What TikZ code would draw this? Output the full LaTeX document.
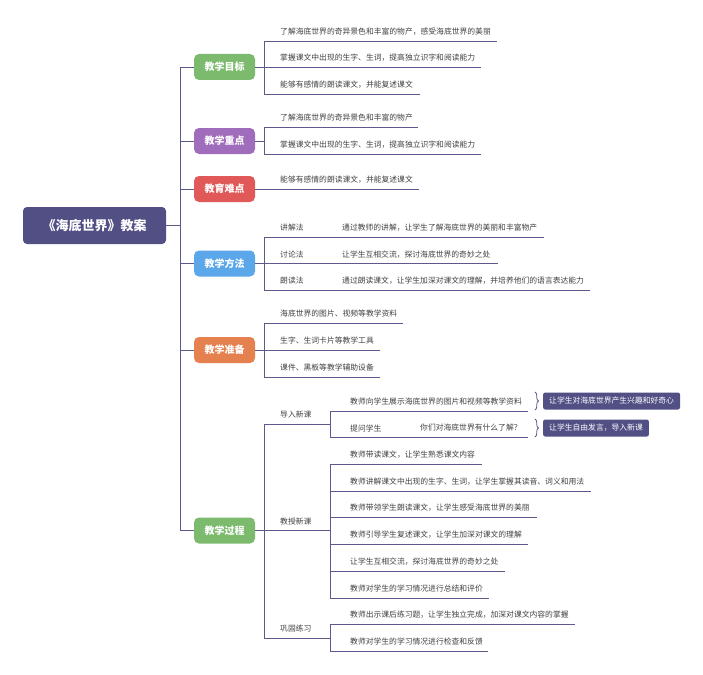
\documentclass[tikz,border=0pt]{standalone}
\usepackage{fontspec}
\setmainfont{Noto Sans CJK SC}
\usetikzlibrary{decorations.pathreplacing}
\definecolor{ink}{HTML}{524F85}
\definecolor{lnc}{HTML}{5C5A8C}
\definecolor{cgreen}{HTML}{7CBA6D}
\definecolor{cpurple}{HTML}{A06CBC}
\definecolor{cred}{HTML}{E15858}
\definecolor{cblue}{HTML}{5BA7EA}
\definecolor{corange}{HTML}{E5814F}
\definecolor{txt}{HTML}{404040}
\tikzset{
  rootbox/.style={fill=ink, rounded corners=4pt, text=white, font=\fontsize{13}{15}\selectfont\bfseries, minimum width=143, minimum height=37, inner sep=0},
  topic/.style={rounded corners=5pt, text=white, font=\fontsize{10}{12}\selectfont\bfseries, minimum width=61, minimum height=26, inner sep=0},
  leaftext/.style={anchor=west, inner sep=0, text=txt, font=\fontsize{7.8}{9}\selectfont},
  link/.style={draw=lnc, line width=0.9},
  sumbox/.style={fill=ink, rounded corners=2pt, text=white, font=\fontsize{7.8}{9}\selectfont, inner xsep=6, inner ysep=0, minimum height=17, anchor=west},
  bracelink/.style={draw=lnc, line width=0.8, decorate, decoration={brace, amplitude=3.5pt}},
}
% name, bracket x, text x, underline y, end x, text
\newcommand\lf[6]{%
  \node[leaftext] (#1) at (#3,#4-9) {#6};
  \coordinate (#1s) at (#2,#4);
  \coordinate (#1e) at (#5,#4);
  \draw[link] (#1s) -- (#1e);}
\begin{document}
\begin{tikzpicture}[x=1pt,y=-1pt]
\useasboundingbox (0,0) rectangle (703,674);
% root
\node[rootbox] (root) at (94.5,225.5) {《海底世界》教案};
% topics
\node[topic, fill=cgreen]  (g1) at (224.5,67)  {教学目标};
\node[topic, fill=cpurple] (g2) at (224.5,141) {教学重点};
\node[topic, fill=cred]    (g3) at (224.5,189) {教育难点};
\node[topic, fill=cblue]   (g4) at (224.5,263.5) {教学方法};
\node[topic, fill=corange] (g5) at (224.5,350) {教学准备};
\node[topic, fill=cgreen]  (g6) at (224.5,530.5) {教学过程};
% trunk
\coordinate (t0) at (180,225.5);
\coordinate (t1) at (180,67);
\coordinate (t2) at (180,141);
\coordinate (t3) at (180,189);
\coordinate (t4) at (180,263.5);
\coordinate (t5) at (180,350);
\coordinate (t6) at (180,530.5);
\draw[link] (root.east) -- (t0);
\draw[link] (t1) -- (t6);
\foreach \i in {1,...,6} {\draw[link] (t\i) -- (g\i.west);}
% 教学目标
\lf{a1}{264}{280}{41}{497}{了解海底世界的奇异景色和丰富的物产，感受海底世界的美丽}
\lf{a2}{264}{280}{67}{481}{掌握课文中出现的生字、生词，提高独立识字和阅读能力}
\lf{a3}{264}{280}{94}{420}{能够有感情的朗读课文，并能复述课文}
\draw[link] (g1.east) -- (a2s);
\draw[link] (a1s) -- (a3s);
% 教学重点
\lf{b1}{264}{280}{127}{418}{了解海底世界的奇异景色和丰富的物产}
\lf{b2}{264}{280}{154}{481}{掌握课文中出现的生字、生词，提高独立识字和阅读能力}
\coordinate (bj) at (264,141);
\draw[link] (g2.east) -- (bj);
\draw[link] (b1s) -- (b2s);
% 教育难点
\lf{c1}{264}{280}{189}{419}{能够有感情的朗读课文，并能复述课文}
\draw[link] (g3.east) -- (c1s);
% 教学方法
\lf{d1}{264}{280}{237}{544}{讲解法}
\lf{d2}{264}{280}{263.5}{498}{讨论法}
\lf{d3}{264}{280}{290}{590}{朗读法}
\node[leaftext] (d1t) at (342,237-9) {通过教师的讲解，让学生了解海底世界的美丽和丰富物产};
\node[leaftext] (d2t) at (342,263.5-9) {让学生互相交流，探讨海底世界的奇妙之处};
\node[leaftext] (d3t) at (342,290-9) {通过朗读课文，让学生加深对课文的理解，并培养他们的语言表达能力};
\draw[link] (g4.east) -- (d2s);
\draw[link] (d1s) -- (d3s);
% 教学准备
\lf{e1}{264}{280}{323}{403}{海底世界的图片、视频等教学资料}
\lf{e2}{264}{280}{350}{380}{生字、生词卡片等教学工具}
\lf{e3}{264}{280}{377}{380}{课件、黑板等教学辅助设备}
\draw[link] (g5.east) -- (e2s);
\draw[link] (e1s) -- (e3s);
% 教学过程
\lf{f1}{264}{280}{424}{330}{导入新课}
\lf{f2}{264}{280}{530.5}{330}{教授新课}
\lf{f3}{264}{280}{638}{330}{巩固练习}
\draw[link] (g6.east) -- (f2s);
\draw[link] (f1s) -- (f3s);
% 导入新课
\lf{h1}{330}{350}{411}{528}{教师向学生展示海底世界的图片和视频等教学资料}
\lf{h2}{330}{350}{437}{528}{提问学生}
\node[leaftext] (h2t) at (420,437-9) {你们对海底世界有什么了解？};
\draw[link] (h1s) -- (h2s);
\coordinate (br1a) at (535,392);
\coordinate (br1b) at (535,410);
\coordinate (br2a) at (535,419);
\coordinate (br2b) at (535,437);
\draw[bracelink] (br1a) -- (br1b);
\draw[bracelink] (br2a) -- (br2b);
\node[sumbox] (s1) at (543,401) {让学生对海底世界产生兴趣和好奇心};
\node[sumbox] (s2) at (543,428) {让学生自由发言，导入新课};
% 教授新课
\lf{i1}{330}{350}{464}{482}{教师带读课文，让学生熟悉课文内容}
\lf{i2}{330}{350}{491}{591}{教师讲解课文中出现的生字、生词，让学生掌握其读音、词义和用法}
\lf{i3}{330}{350}{517}{537}{教师带领学生朗读课文，让学生感受海底世界的美丽}
\lf{i4}{330}{350}{544}{528}{教师引导学生复述课文，让学生加深对课文的理解}
\lf{i5}{330}{350}{571}{505}{让学生互相交流，探讨海底世界的奇妙之处}
\lf{i6}{330}{350}{598}{489}{教师对学生的学习情况进行总结和评价}
\draw[link] (i1s) -- (i6s);
% 巩固练习
\lf{j1}{330}{350}{624}{575}{教师出示课后练习题，让学生独立完成，加深对课文内容的掌握}
\lf{j2}{330}{350}{651}{488}{教师对学生的学习情况进行检查和反馈}
\draw[link] (j1s) -- (j2s);
\end{tikzpicture}
\end{document}
